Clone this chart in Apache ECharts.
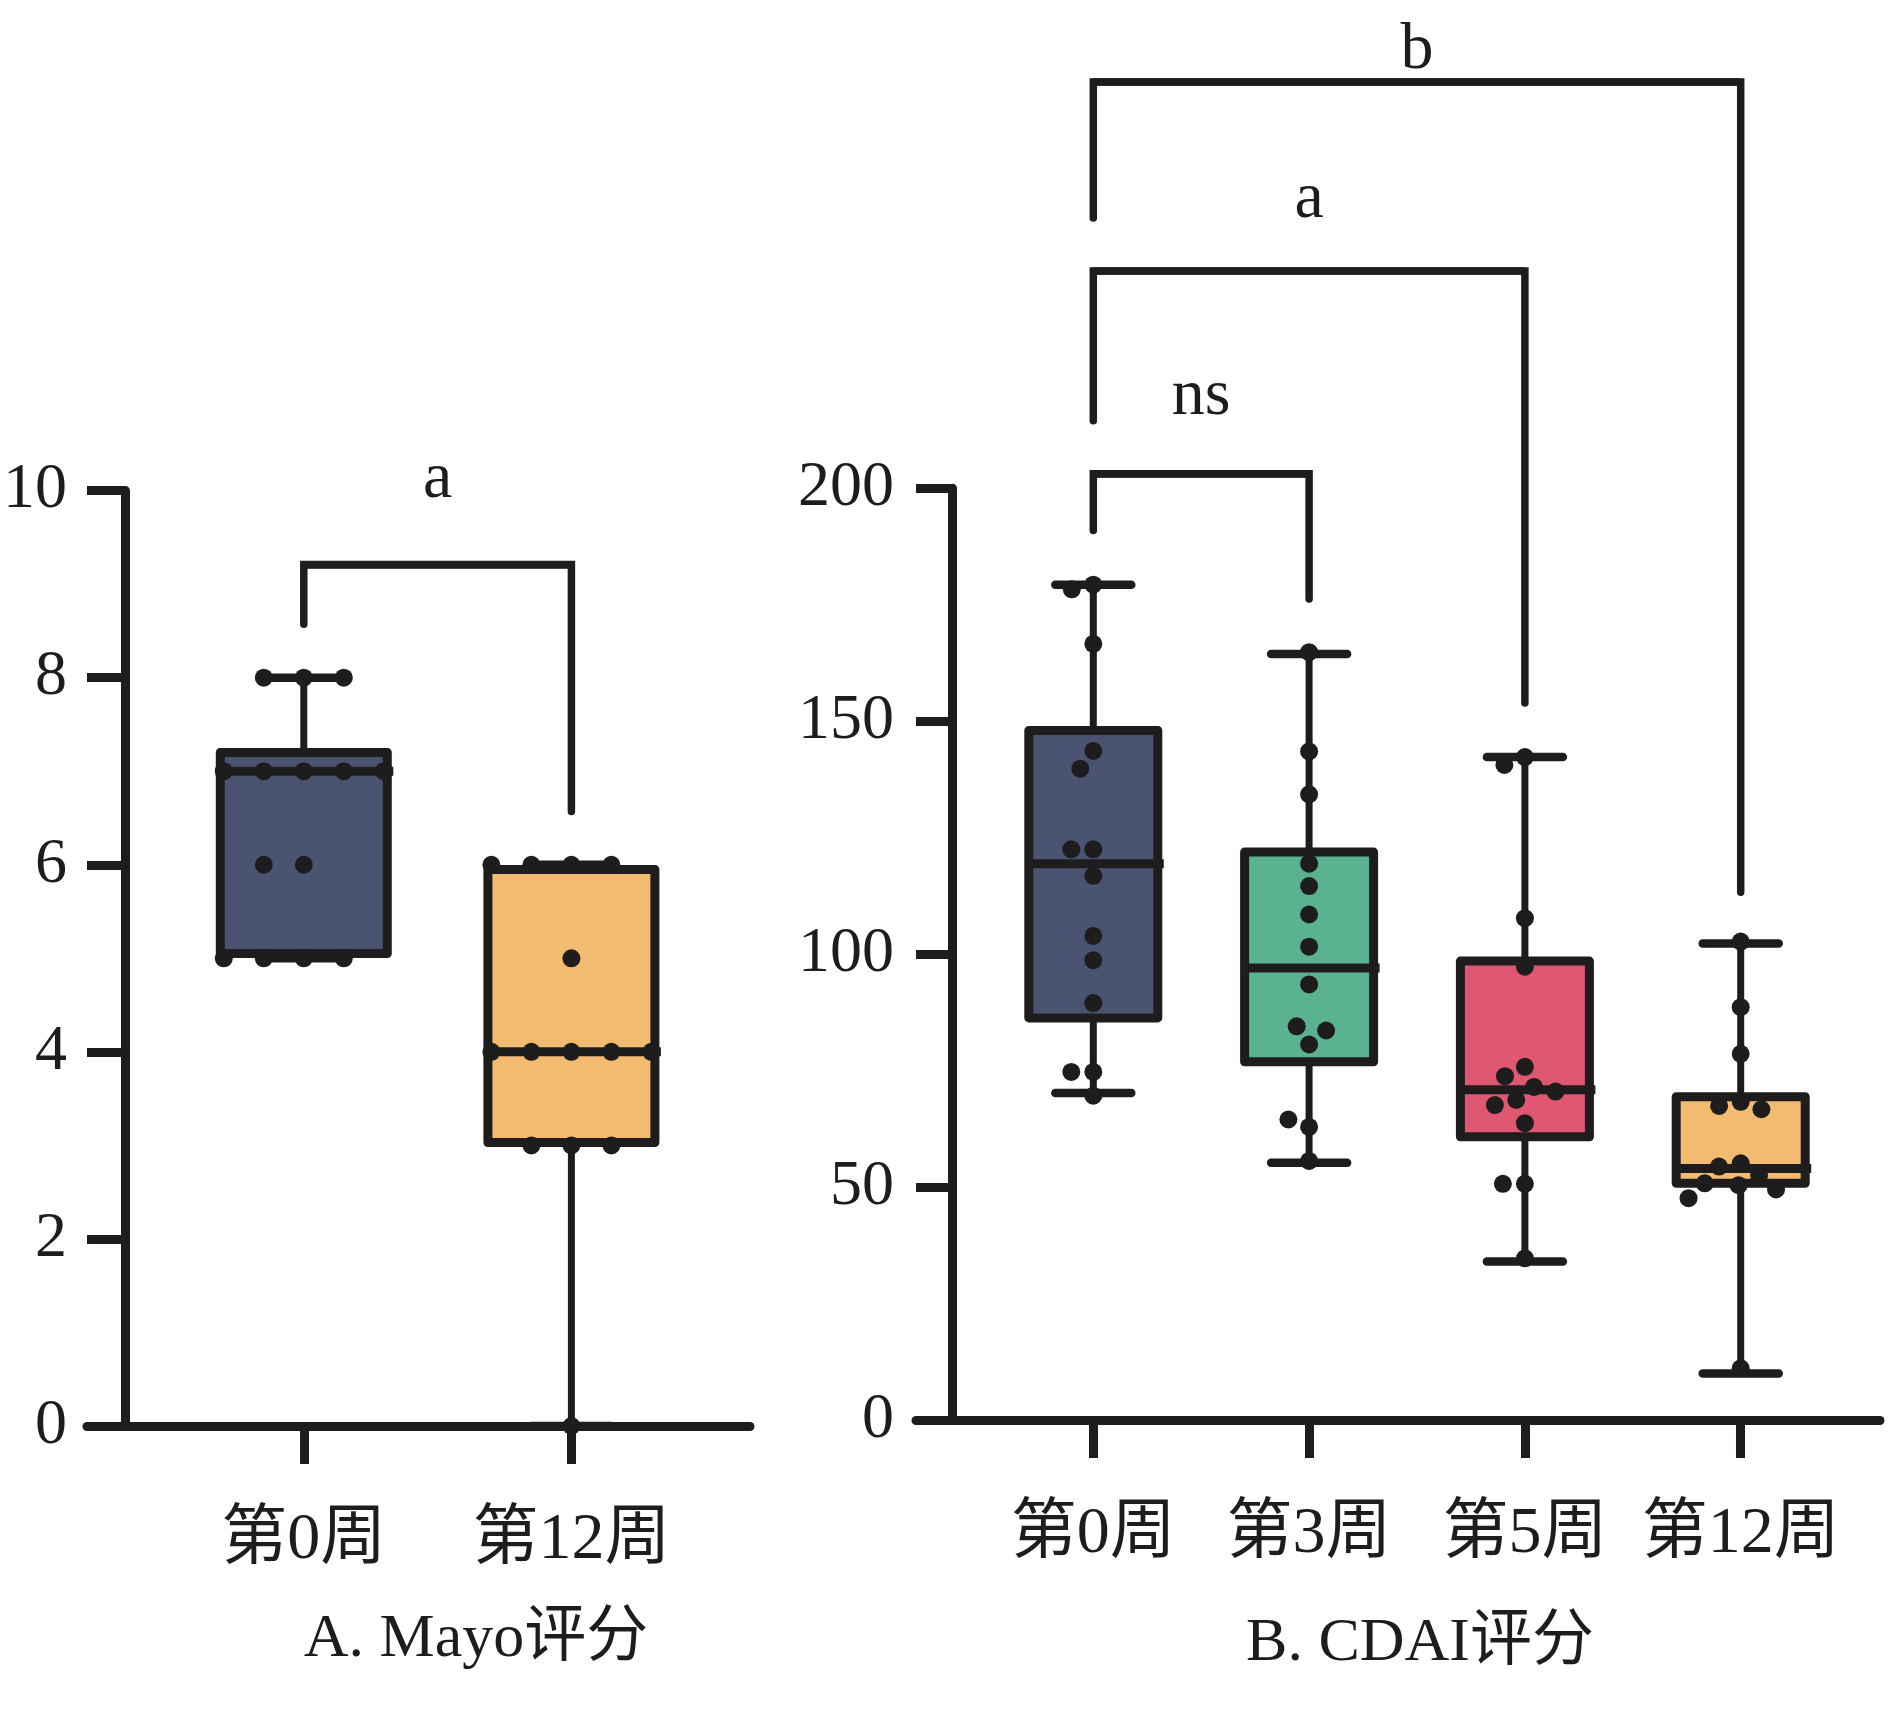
<!DOCTYPE html>
<html>
<head>
<meta charset="utf-8">
<script src="https://cdn.jsdelivr.net/npm/echarts@6/dist/echarts.min.js"></script>
<style>html,body{margin:0;padding:0;background:#fff}#c{width:1890px;height:1710px}</style>
</head>
<body>
<div id="c"></div>
<script>
// ================= DATA =================
// Panel A: Mayo score
const mayoCategories = ['第0周', '第12周'];
const mayoYTicks = [0, 2, 4, 6, 8, 10];
const mayoDotsWeek0 = [8, 8, 8, 7, 7, 7, 7, 7, 6, 6, 5, 5, 5, 5];
const mayoDotsWeek12 = [6, 6, 6, 6, 5, 4, 4, 4, 4, 4, 3, 3, 3, 0];
// box: [min, Q1, median, Q3, max]
const mayoBoxWeek0 = [5, 5.05, 7, 7.2, 8];
const mayoBoxWeek12 = [0, 3.03, 4, 5.95, 6];
// bracket: [left leg end, bracket top, right leg end]
const mayoBracket = [8.57, 9.21, 6.57];
const mayoBracketLabel = 'a';
const mayoTitle = 'A. Mayo评分';

// Panel B: CDAI score
const cdaiCategories = ['第0周', '第3周', '第5周', '第12周'];
const cdaiYTicks = [0, 50, 100, 150, 200];
const cdaiDotsWeek0 = [179.3, 178.3, 166.6, 143.6, 139.8, 116.8, 122.5, 122.5, 103.9, 98.7, 89.5, 74.7, 74.7, 69.6];
const cdaiDotsWeek3 = [164.8, 143.5, 134.3, 119.4, 114.6, 108.5, 101.6, 93.5, 80.6, 84.5, 83.6, 62.9, 64.5, 55.6];
const cdaiDotsWeek5 = [142.3, 140.6, 107.7, 97.3, 75.8, 73.8, 71.5, 70.5, 68.7, 67.6, 63.7, 50.7, 50.7, 34.7];
const cdaiDotsWeek12 = [102.7, 88.6, 78.6, 68.3, 67.4, 66.7, 55.1, 54.4, 52.5, 50.8, 50.4, 49.5, 47.6, 11.1];
const cdaiBoxWeek0 = [70.2, 86.3, 119.4, 148.0, 179.3];
const cdaiBoxWeek3 = [55.2, 76.9, 97.0, 121.9, 164.4];
const cdaiBoxWeek5 = [34.0, 60.8, 70.9, 98.5, 142.3];
const cdaiBoxWeek12 = [10.0, 50.8, 54.0, 69.4, 102.3];
const cdaiBracketNs = [190.9, 203.1, 176.2];   // 第0周 vs 第3周
const cdaiBracketA = [214.5, 246.6, 153.9];    // 第0周 vs 第5周
const cdaiBracketB = [258.0, 287.2, 113.3];    // 第0周 vs 第12周
const cdaiBracketLabels = ['ns', 'a', 'b'];
const cdaiTitle = 'B. CDAI评分';

// ================= STYLE / LAYOUT =================
const FONT = "'Liberation Serif', 'Noto Sans CJK SC', serif";
const INK = '#1f1c1d';
const mayoColors = ['#4a5472', '#f2bb6f'];
const cdaiColors = ['#4a5472', '#5bb291', '#e05772', '#f2bb6f'];

const PA = { frameLeft: 87, frameRight: 750, yAxisX: 125, top: 490.6, base: 1426,
             catFirst: 303.8, catStep: 267.6, dataMax: 11, boxW: 167, capW: 80,
             dot: 18, dotMargin: 22, jitter: 240, titleX: 476, titleTop: 1609 };
const PB = { frameLeft: 916, frameRight: 1880, yAxisX: 952, top: 488.2, base: 1420,
             catFirst: 1093.3, catStep: 215.8, dataMax: 300, boxW: 129, capW: 76,
             dot: 18, dotMargin: 4, jitter: 200, titleX: 1420, titleTop: 1613 };

const grids = [], xAxes = [], yAxes = [], series = [], titles = [];

function boxRenderer(colors, P) {
  return function (params, api) {
    const x = api.value(0);
    const pMin = api.coord([x, api.value(1)]);
    const pQ1 = api.coord([x, api.value(2)]);
    const pMed = api.coord([x, api.value(3)]);
    const pQ3 = api.coord([x, api.value(4)]);
    const pMax = api.coord([x, api.value(5)]);
    const cx = pMed[0];
    const half = P.boxW / 2, capHalf = P.capW / 2;
    const whisker = { stroke: INK, lineWidth: 7, lineCap: 'round' };
    const cap = { stroke: INK, lineWidth: 8.5, lineCap: 'round' };
    return {
      type: 'group',
      children: [
        { type: 'line', shape: { x1: cx, y1: pMax[1], x2: cx, y2: pQ3[1] }, style: whisker },
        { type: 'line', shape: { x1: cx, y1: pQ1[1], x2: cx, y2: pMin[1] }, style: whisker },
        { type: 'line', shape: { x1: cx - capHalf, y1: pMax[1], x2: cx + capHalf, y2: pMax[1] }, style: cap },
        { type: 'line', shape: { x1: cx - capHalf, y1: pMin[1], x2: cx + capHalf, y2: pMin[1] }, style: cap },
        { type: 'rect', shape: { x: cx - half, y: pQ3[1], width: P.boxW, height: pQ1[1] - pQ3[1] },
          style: { fill: colors[params.dataIndex], stroke: INK, lineWidth: 9, lineJoin: 'round' } },
        { type: 'line', shape: { x1: cx - half, y1: pMed[1], x2: cx + half + 6, y2: pMed[1] },
          style: { stroke: INK, lineWidth: 9, lineCap: 'butt' } }
      ]
    };
  };
}

function addPanel(P, cats, yTicks, dotGroups, boxes, colors, brackets, bracketLabels, labelDist, title) {
  const gi = grids.length;
  const yMin = yTicks[0], yMax = yTicks[yTicks.length - 1], step = yTicks[1] - yTicks[0];
  const unit = (P.base - P.top) / (yMax - yMin);
  const dataTop = P.base - (P.dataMax - yMin) * unit;
  const dataLeft = P.catFirst - P.catStep / 2;
  const dataWidth = P.catStep * cats.length;
  const bottom = 1710 - P.base;

  // frame grid (axis lines, y ticks & labels)
  grids.push({ left: P.frameLeft, top: P.top, width: P.frameRight - P.frameLeft, bottom: bottom, outerBoundsMode: 'none', containLabel: false });
  // data grid (boxes, dots, category ticks/labels)
  grids.push({ left: dataLeft, top: dataTop, width: dataWidth, bottom: bottom, outerBoundsMode: 'none', containLabel: false });
  // bracket grid
  grids.push({ left: dataLeft, top: dataTop, width: dataWidth, bottom: bottom, outerBoundsMode: 'none', containLabel: false });

  xAxes.push({
    gridIndex: gi, type: 'value', min: 0, max: 1, position: 'bottom',
    axisLine: { show: true, onZero: false, lineStyle: { color: INK, width: 9 } },
    axisTick: { show: false }, axisLabel: { show: false }, splitLine: { show: false }
  });
  yAxes.push({
    gridIndex: gi, type: 'value', min: yMin, max: yMax, interval: step, position: 'left',
    offset: -(P.yAxisX - P.frameLeft),
    axisLine: { show: true, onZero: false, lineStyle: { color: INK, width: 9 } },
    axisTick: { show: true, inside: false, length: P.yAxisX - P.frameLeft, lineStyle: { color: INK, width: 9 } },
    axisLabel: { show: true, margin: 58, color: INK, fontSize: 64, fontFamily: FONT },
    splitLine: { show: false }
  });

  xAxes.push({
    gridIndex: gi + 1, type: 'category', data: cats, position: 'bottom',
    jitter: P.jitter, jitterOverlap: false, jitterMargin: P.dotMargin,
    axisLine: { show: false },
    axisTick: { show: true, alignWithLabel: true, length: 38, lineStyle: { color: INK, width: 9 } },
    axisLabel: { show: true, margin: 82, color: INK, fontSize: 66, fontFamily: FONT, interval: 0 },
    splitLine: { show: false }
  });
  yAxes.push({ gridIndex: gi + 1, type: 'value', min: yMin, max: P.dataMax, show: false, splitLine: { show: false } });

  xAxes.push({ gridIndex: gi + 2, type: 'category', data: cats, show: false });
  yAxes.push({ gridIndex: gi + 2, type: 'value', min: yMin, max: P.dataMax, show: false, splitLine: { show: false } });

  // boxes
  series.push({
    type: 'custom', xAxisIndex: gi + 1, yAxisIndex: gi + 1, z: 2,
    renderItem: boxRenderer(colors, P),
    encode: { x: 0, y: [1, 2, 3, 4, 5] },
    data: boxes.map((b, i) => [i].concat(b))
  });
  // dots
  const dots = [];
  dotGroups.forEach((g, i) => g.forEach(v => dots.push([cats[i], v])));
  series.push({
    type: 'scatter', xAxisIndex: gi + 1, yAxisIndex: gi + 1, z: 5,
    symbol: 'circle', symbolSize: P.dot,
    itemStyle: { color: INK, opacity: 1 },
    data: dots
  });
  // significance brackets
  brackets.forEach((br, k) => {
    const c0 = cats[br.from], c1 = cats[br.to];
    series.push({
      type: 'line', xAxisIndex: gi + 2, yAxisIndex: gi + 2, z: 4,
      symbol: 'none', silent: true,
      lineStyle: { color: INK, width: 7.5, cap: 'round', join: 'miter' },
      data: [[c0, br.v[0]], [c0, br.v[1]], [c1, br.v[1]], [c1, br.v[2]]],
      markLine: {
        silent: true, symbol: ['none', 'none'], animation: false,
        lineStyle: { color: INK, width: 7.5, type: 'solid' },
        label: {
          show: true, position: 'insideMiddleTop', formatter: bracketLabels[k],
          distance: labelDist[k], color: INK, fontSize: 66, fontFamily: FONT
        },
        emphasis: { disabled: true },
        data: [[{ coord: [c0, br.v[1]] }, { coord: [c1, br.v[1]] }]]
      }
    });
  });

  titles.push({
    text: title, left: P.titleX, top: P.titleTop, padding: 0, textAlign: 'center',
    textStyle: { color: INK, fontSize: 62, fontWeight: 'normal', fontFamily: FONT }
  });
}

addPanel(PA, mayoCategories, mayoYTicks,
  [mayoDotsWeek0, mayoDotsWeek12], [mayoBoxWeek0, mayoBoxWeek12], mayoColors,
  [{ from: 0, to: 1, v: mayoBracket }], [mayoBracketLabel], [52], mayoTitle);

addPanel(PB, cdaiCategories, cdaiYTicks,
  [cdaiDotsWeek0, cdaiDotsWeek3, cdaiDotsWeek5, cdaiDotsWeek12],
  [cdaiBoxWeek0, cdaiBoxWeek3, cdaiBoxWeek5, cdaiBoxWeek12], cdaiColors,
  [{ from: 0, to: 1, v: cdaiBracketNs }, { from: 0, to: 2, v: cdaiBracketA }, { from: 0, to: 3, v: cdaiBracketB }],
  cdaiBracketLabels, [44, 38, -2], cdaiTitle);

const chart = echarts.init(document.getElementById('c'), null, { renderer: 'canvas', width: 1890, height: 1710 });
chart.setOption({
  animation: false,
  backgroundColor: '#ffffff',
  title: titles,
  grid: grids,
  xAxis: xAxes,
  yAxis: yAxes,
  series: series
});
</script>
</body>
</html>
